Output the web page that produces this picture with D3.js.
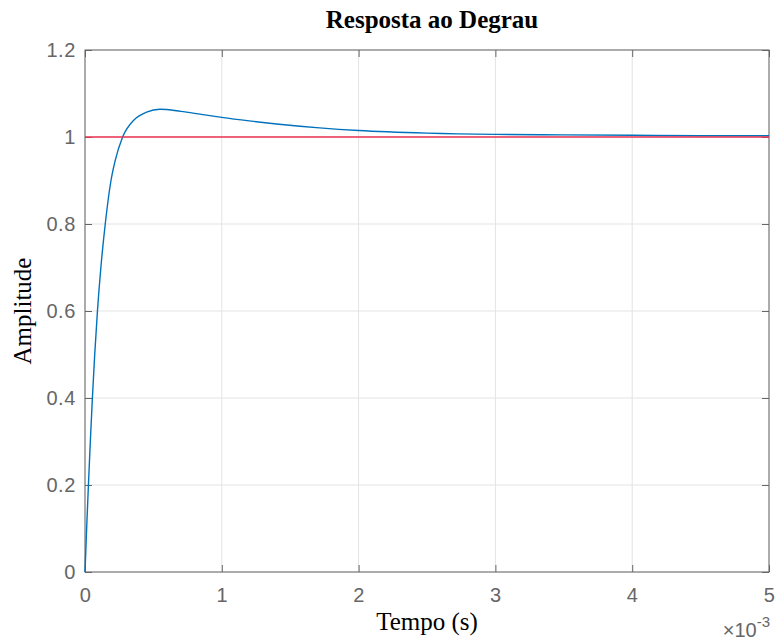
<!DOCTYPE html>
<html>
<head>
<meta charset="utf-8">
<script src="https://cdn.jsdelivr.net/npm/d3@7"></script>
<style>
  body { margin: 0; background: #fff; }
  svg { display: block; }
</style>
</head>
<body>
<div id="chart"></div>
<script>
// tempo em segundos, amplitude
let tempo = [0, 0.000012, 0.000025, 0.000039, 0.000054, 0.000071, 0.000091, 0.000116, 0.000148,
             0.00019, 0.00022, 0.000275, 0.000358, 0.00045, 0.000547, 0.0007, 0.00085,
             0.001, 0.0012, 0.0014, 0.001715, 0.002, 0.0025, 0.003, 0.0035, 0.004, 0.0045, 0.005];
let amplitude = [0, 0.1, 0.2, 0.3, 0.4, 0.5, 0.6, 0.7, 0.8,
                 0.9, 0.945, 1.0, 1.039, 1.057, 1.0637, 1.059, 1.052,
                 1.045, 1.037, 1.03, 1.021, 1.015, 1.009, 1.006, 1.005, 1.004, 1.003, 1.003];
let referencia = [1, 1];          // degrau unitario
let refTempo = [0, 0.005];
let xTicks = [0, 0.001, 0.002, 0.003, 0.004, 0.005];
let yTicks = [0, 0.2, 0.4, 0.6, 0.8, 1, 1.2];

let width = 776, height = 643;
let margin = { top: 50, right: 7, bottom: 71, left: 85 };
let plotWidth = width - margin.left - margin.right;
let plotHeight = height - margin.top - margin.bottom;
let tickColor = "#666";
let serif = "'Liberation Serif', 'Times New Roman', serif";
let sans = "'Liberation Sans', Arial, sans-serif";

let svg = d3.select("#chart").append("svg")
    .attr("width", width)
    .attr("height", height);

let g = svg.append("g")
    .attr("transform", "translate(" + margin.left + "," + margin.top + ")");

let xScale = d3.scaleLinear().domain([0, 0.005]).range([0, plotWidth]);
let yScale = d3.scaleLinear().domain([0, 1.2]).range([plotHeight, 0]);

// grade
g.append("g").selectAll("line")
    .data(xTicks)
    .enter().append("line")
    .attr("x1", d => xScale(d)).attr("x2", d => xScale(d))
    .attr("y1", 0).attr("y2", plotHeight)
    .attr("stroke", "#e3e3e3");

g.append("g").selectAll("line")
    .data(yTicks)
    .enter().append("line")
    .attr("y1", d => yScale(d)).attr("y2", d => yScale(d))
    .attr("x1", 0).attr("x2", plotWidth)
    .attr("stroke", "#e3e3e3");

// eixos (ticks para dentro)
let fmtX = d => d3.format("d")(Math.round(d * 1000));
let fmtY = d => d3.format("~g")(d);

function styleAxis(sel) {
    sel.select(".domain").remove();
    sel.selectAll(".tick line").attr("stroke", "#666");
    sel.selectAll(".tick text")
        .attr("fill", tickColor)
        .style("font-family", sans)
        .style("font-size", "20px")
        .style("letter-spacing", "0.6px");
}

g.append("g")
    .attr("transform", "translate(0," + plotHeight + ")")
    .call(d3.axisBottom(xScale).tickValues(xTicks).tickFormat(fmtX).tickSizeInner(-7).tickPadding(16))
    .call(styleAxis);

g.append("g")
    .call(d3.axisTop(xScale).tickValues(xTicks).tickFormat("").tickSizeInner(-7))
    .call(styleAxis);

g.append("g")
    .call(d3.axisLeft(yScale).tickValues(yTicks).tickFormat(fmtY).tickSizeInner(-7).tickPadding(9))
    .call(styleAxis);

g.append("g")
    .attr("transform", "translate(" + plotWidth + ",0)")
    .call(d3.axisRight(yScale).tickValues(yTicks).tickFormat("").tickSizeInner(-7))
    .call(styleAxis);

// caixa
g.append("rect")
    .attr("width", plotWidth)
    .attr("height", plotHeight)
    .attr("fill", "none")
    .attr("stroke", "#666");

// resposta ao degrau
let line = d3.line()
    .x((d, i) => xScale(tempo[i]))
    .y(d => yScale(d))
    .curve(d3.curveMonotoneX);

g.append("path")
    .datum(amplitude)
    .attr("fill", "none")
    .attr("stroke", "#0072BD")
    .attr("stroke-width", 1.4)
    .attr("d", line);

// referencia
let refLine = d3.line()
    .x((d, i) => xScale(refTempo[i]))
    .y(d => yScale(d));

g.append("path")
    .datum(referencia)
    .attr("fill", "none")
    .attr("stroke", "#ec3350")
    .attr("stroke-width", 1.6)
    .attr("d", refLine);

// titulo
svg.append("text")
    .attr("x", 432)
    .attr("y", 28)
    .attr("text-anchor", "middle")
    .style("font-family", serif)
    .style("font-weight", "bold")
    .style("font-size", "25px")
    .attr("fill", "#000")
    .text("Resposta ao Degrau");

// rotulos
svg.append("text")
    .attr("x", margin.left + plotWidth / 2)
    .attr("y", 630)
    .attr("text-anchor", "middle")
    .style("font-family", serif)
    .style("font-size", "25px")
    .attr("fill", "#000")
    .text("Tempo (s)");

svg.append("text")
    .attr("transform", "rotate(-90)")
    .attr("x", -(margin.top + plotHeight / 2))
    .attr("y", 31)
    .attr("text-anchor", "middle")
    .style("font-family", serif)
    .style("font-size", "25px")
    .attr("fill", "#000")
    .text("Amplitude");

// multiplicador do eixo x
let mult = svg.append("text")
    .attr("x", 770)
    .attr("y", 637)
    .attr("text-anchor", "end")
    .style("font-family", sans)
    .style("font-size", "20px")
    .attr("fill", tickColor);
mult.append("tspan").text("\u00d710");
mult.append("tspan").attr("dy", -10).style("font-size", "15px").text("-3");
</script>
</body>
</html>
